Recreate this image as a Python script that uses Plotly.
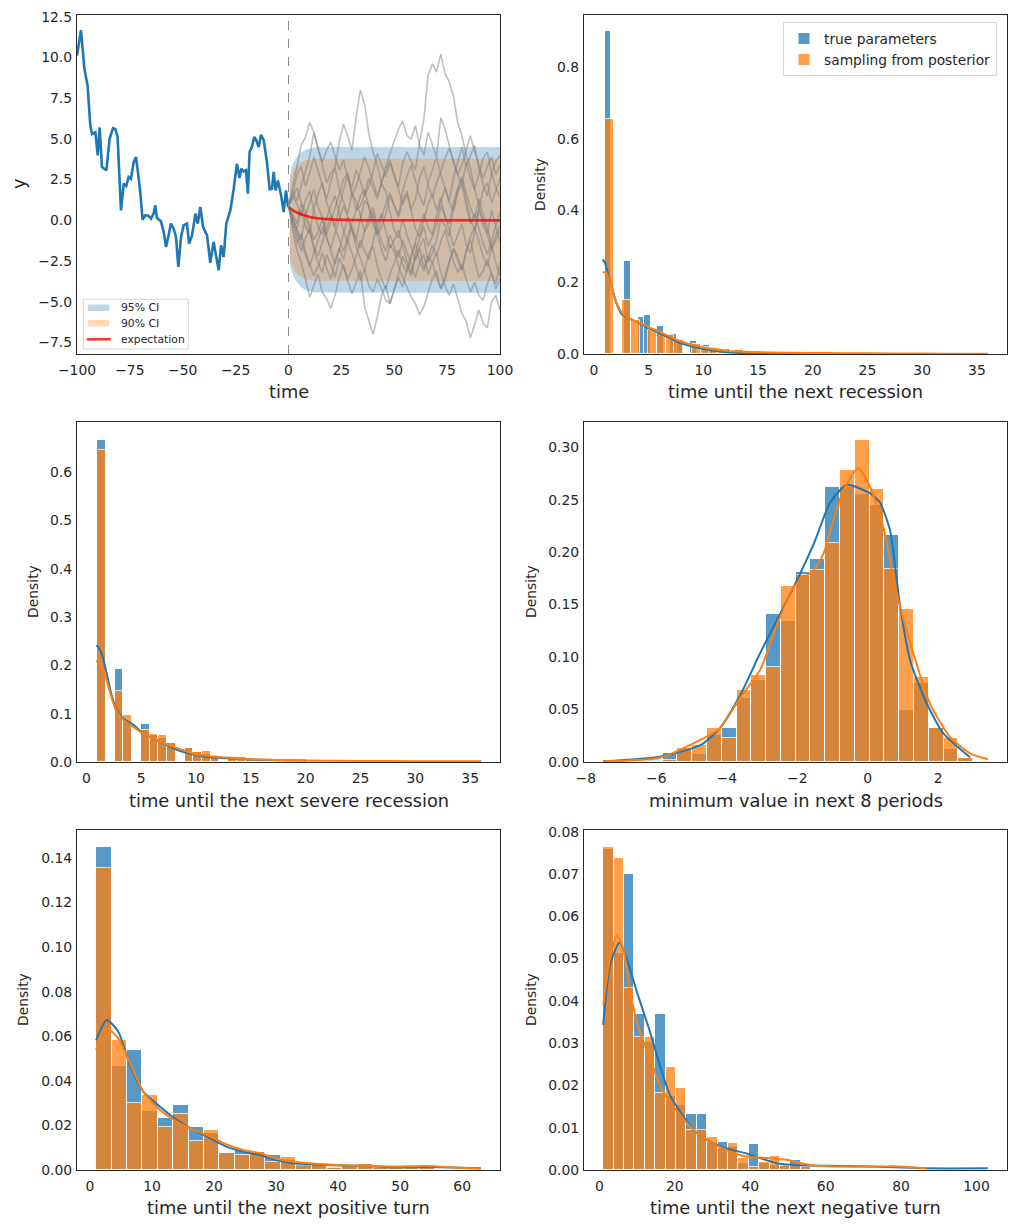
import numpy as np
import plotly.graph_objects as go

FONT = "DejaVu Sans"
INK = "#262626"
BLUE = "#1f77b4"
ORANGE = "#ff7f0e"
W, H = 1017, 1227

# ---------------- panel 1: observed series + forecast ----------------
obs_t = [-100, -98.1, -96.5, -95, -93.7, -92.9, -91.3, -90.2, -89.3, -88.2,
         -86.1, -84.6, -83, -81.9, -80.8, -79.2, -77.9, -76.7, -75.6, -74.5,
         -73.2, -72.1, -70.8, -70.1, -69, -67.7, -66.1, -65, -63.8, -63,
         -62.2, -60.3, -59, -57.9, -56.7, -55.6, -54.3, -53.2, -52.1, -50.8,
         -49.6, -48, -47, -45.6, -44, -42.9, -41.7, -40.4, -38.5, -37,
         -35.4, -34.1, -33, -31.9, -30.7, -29.4, -27.5, -25.9, -24.4, -23.2,
         -22.3, -21.2, -20.1, -19.2, -18.4, -17.3, -16.2, -15.2, -14.1, -13,
         -11.7, -10.2, -8.9, -7.8, -7, -6.1, -5, -3.5, -2.3, -1.2,
         -0.2, 0]
obs_y = [10.12, 11.66, 9.3, 8.28, 5.82, 5.3, 5.4, 3.99, 5.7, 3.27,
         3.07, 5.0, 5.65, 5.6, 5.1, 0.61, 2.25, 2.1, 2.66, 2.55,
         3.58, 3.88, 2.55, 1.74, 0.04, 0.31, 0.27, 0.1, 0.41, 0.92,
         0.14, -0.06, -0.71, -1.63, -0.92, -0.2, -0.51, -1.02, -2.86, -1.02,
         -0.31, -0.2, -1.43, -0.92, 0.41, -0.2, 0.82, -0.41, -0.92, -2.6,
         -1.33, -2.15, -3.07, -1.53, -2.25, -0.2, 0.61, 1.94, 3.48, 2.6,
         3.17, 3.0, 3.07, 1.64, 4.19, 4.5, 5.11, 4.91, 4.5, 5.25,
         4.91, 3.58, 1.9, 1.94, 2.97, 1.84, 2.45, 1.53, 0.51, 1.84,
         0.82, 0.9]

sim_t = list(range(0, 101, 2))
path_01 = [0.9, 0.1, -0.6, -1.2, 0.3, 1.1, 1.9, 0.8, 0.2, -0.9, -0.1, 0.8, 1.6, 2.5, 2.9, 1.7, 0.6,
           0.9, 1.6, 2.6, 1.9, 1.3, 2.4, 3.1, 3.7, 2.6, 2.1, 3.5, 4.2, 3.6, 3.1, 4.8, 6.2, 8.9,
           9.6, 9.1, 10.2, 9.0, 8.5, 7.6, 6.0, 5.2, 4.0, 3.2, 1.9, 1.0, -0.3, -0.8, 0.6, -0.4, -1.3]
path_02 = [0.9, 1.6, 2.8, 3.3, 2.1, 2.9, 3.9, 3.0, 2.2, 1.3, 2.4, 3.3, 4.8, 5.9, 5.2, 4.3, 6.4,
           8.0, 7.1, 5.3, 4.2, 3.4, 2.2, 1.8, 0.5, -0.6, -1.1, 0.1, -0.9, -1.6, -2.5, -1.6, -1.1, -2.6,
           -2.0, -1.2, 0.1, -0.3, -1.0, 0.7, 1.8, 2.5, 1.3, 0.1, -0.6, 0.7, 1.9, 2.3, 1.1, 1.8, 2.6]
path_03 = [0.9, 2.0, 3.3, 4.6, 5.1, 6.0, 5.4, 4.5, 3.4, 2.3, 2.9, 3.2, 1.9, 1.1, 0.4, 1.6, 1.2,
           0.3, -0.7, -0.2, 0.5, -0.9, -0.4, 0.4, 1.5, 0.9, 0.3, 1.8, 2.7, 3.4, 2.4, 1.5, 0.9, 2.3,
           3.1, 3.9, 2.8, 2.0, 1.2, 2.6, 3.5, 4.5, 3.3, 3.9, 4.6, 3.2, 2.2, 1.5, 2.9, 3.6, 4.0]
path_04 = [0.9, -0.2, -0.5, 0.6, -0.4, -0.8, 0.7, 1.6, 2.3, 1.1, 0.4, -0.4, 0.8, 1.9, 2.7, 1.5, 2.1,
           3.0, 3.9, 3.2, 2.4, 1.5, 2.2, 3.3, 4.1, 4.8, 5.6, 6.1, 5.2, 5.0, 5.8, 4.6, 4.0, 5.4,
           4.7, 3.9, 6.3, 5.6, 4.6, 3.5, 2.8, 2.2, 3.5, 2.6, 1.9, 2.9, 3.8, 4.2, 2.9, 2.0, 1.4]
path_05 = [0.9, -0.1, -1.0, -1.9, -1.1, -0.5, -1.8, -2.6, -3.2, -2.1, -2.7, -3.5, -2.3, -2.9, -3.7, -4.5, -3.8,
           -3.1, -5.3, -6.2, -7.0, -5.9, -4.6, -4.0, -5.1, -4.2, -3.3, -2.2, -2.8, -3.4, -2.0, -1.1, -0.4, -1.6,
           -1.0, -0.3, 0.9, 0.3, -0.6, -1.6, -0.9, -0.2, -1.5, -2.0, -0.7, 0.6, 0.1, -0.8, -1.8, -1.2, -0.6]
path_06 = [0.9, 1.5, 1.0, 0.3, 1.2, 1.8, 0.6, -0.4, -0.9, 0.1, 0.9, 1.5, 0.4, -0.6, -1.4, -0.3, -1.2,
           -1.7, -0.6, 0.2, 0.8, -0.4, -1.3, -1.9, -0.9, -1.6, -2.3, -1.2, -1.9, -2.7, -3.5, -2.6, -2.1, -3.3,
           -2.6, -2.0, -3.2, -4.0, -4.6, -3.9, -4.8, -5.7, -6.2, -7.2, -6.4, -5.5, -6.3, -6.6, -5.0, -4.6, -5.5]
path_07 = [0.9, -0.6, -1.8, -2.6, -3.6, -4.7, -4.0, -3.3, -4.4, -4.8, -5.4, -4.6, -3.5, -2.7, -3.6, -3.0, -2.2,
           -1.2, -1.9, -2.4, -1.3, -0.2, 0.4, -0.6, -1.7, -1.2, -0.6, -1.6, -2.5, -3.2, -2.3, -1.7, -2.9, -2.2,
           -2.6, -3.5, -4.2, -3.4, -2.6, -1.7, -2.2, -3.0, -1.8, -1.2, -2.4, -3.5, -3.1, -2.4, -3.3, -3.9, -2.6]
path_08 = [0.9, 0.4, -0.2, 1.0, 0.6, -0.3, -1.2, -0.7, 0.1, -1.0, -1.9, -2.7, -1.8, -0.8, 0.2, -0.6, -1.2,
           0.1, 1.2, 0.9, 0.0, -0.9, -1.8, -2.5, -1.5, -1.9, -2.8, -3.5, -4.1, -4.7, -5.1, -5.8, -5.3, -4.5,
           -3.6, -3.1, -4.2, -3.7, -2.6, -1.8, -2.4, -3.1, -2.0, -1.0, -0.4, -1.3, -2.2, -2.8, -1.7, -0.9, -0.3]
path_09 = [0.9, 1.4, 2.0, 1.1, 0.2, -0.7, -1.6, -2.2, -1.3, -0.5, 0.3, -0.4, -1.2, -1.9, -1.0, -0.1, 0.6,
           1.5, 1.9, 0.8, -0.3, -0.8, 0.2, 1.0, 1.7, 0.9, 0.2, 1.2, 1.8, 0.6, -0.5, -1.0, 0.1, 1.0,
           1.6, 0.6, 1.4, 0.2, -0.2, 1.1, 2.0, 2.7, 1.7, 0.8, 0.1, 1.3, 0.4, -0.4, -1.5, -2.6, -3.4]
path_10 = [0.9, 0.2, -0.6, -1.4, -2.1, -2.8, -2.0, -1.2, -0.4, -1.1, -1.7, -0.8, 0.1, 0.9, 0.2, -0.6, -1.6,
           -2.4, -3.1, -2.0, -1.6, -2.8, -3.6, -4.2, -3.3, -2.6, -1.8, -2.7, -3.2, -2.2, -1.3, -0.5, 0.4, -0.4,
           -0.9, 0.3, 1.2, 2.0, 1.1, 0.6, 1.7, 2.2, 0.9, -0.2, 0.4, -0.5, -1.4, -2.1, -1.2, -0.3, 0.5]
path_11 = [0.9, 1.8, 1.2, 2.1, 3.0, 3.9, 5.4, 4.3, 3.6, 4.3, 4.8, 4.0, 3.1, 3.7, 2.6, 2.0, 3.1,
           2.4, 1.5, 2.1, 3.0, 4.1, 3.4, 2.7, 3.5, 2.9, 1.9, 1.0, 1.6, 0.7, 1.3, 2.6, 3.3, 2.2,
           1.4, 2.3, 3.0, 3.8, 4.4, 3.7, 2.8, 3.4, 4.3, 5.2, 4.2, 3.4, 2.6, 3.3, 3.9, 2.8, 3.4]
path_12 = [0.9, -0.3, -1.4, -0.8, -1.9, -2.7, -3.4, -2.8, -2.0, -2.9, -3.6, -2.5, -1.7, -2.4, -1.3, -2.0, -2.9,
           -3.7, -3.0, -4.0, -4.4, -3.6, -4.2, -4.9, -5.1, -4.3, -3.5, -4.1, -3.0, -2.2, -1.4, -2.5, -3.1, -2.3,
           -1.5, -2.2, -1.3, -0.6, -1.5, -2.5, -3.2, -2.7, -3.6, -4.4, -3.8, -4.6, -4.9, -3.9, -3.2, -4.2, -3.6]
sim_paths = [path_01, path_02, path_03, path_04, path_05, path_06,
             path_07, path_08, path_09, path_10, path_11, path_12]

band_t = [0.6, 1, 1.5, 2, 3, 4, 5, 6, 8, 10, 12, 15, 100]
upper95 = [2.6, 3.0, 3.25, 3.45, 3.7, 3.9, 4.05, 4.17, 4.33, 4.42, 4.47, 4.5, 4.5]
lower95 = [-2.5, -2.9, -3.15, -3.35, -3.6, -3.8, -3.97, -4.1, -4.27, -4.37, -4.42, -4.45, -4.45]
upper90 = [2.2, 2.55, 2.78, 2.95, 3.2, 3.35, 3.47, 3.56, 3.67, 3.73, 3.76, 3.78, 3.78]
lower90 = [-2.1, -2.45, -2.68, -2.85, -3.1, -3.27, -3.4, -3.49, -3.61, -3.67, -3.7, -3.72, -3.72]

exp_t = [0, 2, 4, 6, 8, 10, 12, 15, 20, 25, 30, 40, 50, 100]
exp_y = [0.8, 0.62, 0.48, 0.37, 0.28, 0.21, 0.16, 0.11, 0.06, 0.035, 0.02, 0.007, 0.002, 0.0]

legend1_labels = ["95% CI", "90% CI", "expectation"]

# ---------------- panel 2: time until the next recession ----------------
rec_true_values = list(range(1, 21))
rec_true_heights = [0.90, 0, 0.259, 0.103, 0.109, 0.078, 0.056, 0.038, 0.036, 0.025,
                    0.02, 0.015, 0.011, 0.008, 0.006, 0.004, 0.003, 0.002, 0.0015, 0.001]
rec_true_bins = (1.0, 0.6, 32)          # start, width, count
rec_post_values = list(range(1, 37))
rec_post_heights = [0.656, 0, 0.151, 0.096, 0.067, 0.059, 0.053, 0.039, 0.028, 0.020,
                    0.016, 0.012, 0.010, 0.008, 0.007, 0.006, 0.005, 0.004, 0.003, 0.003,
                    0.002, 0.002, 0.0015, 0.0015, 0.001, 0.001, 0.001, 0.0008, 0.0008, 0.0006,
                    0.0006, 0.0005, 0.0005, 0.0004, 0.0004, 0.0004]
rec_post_bins = (1.0, 35 / 44, 44)
rec_kde_true_x = [0.8, 1.0, 1.3, 1.7, 2.07, 2.5, 3.0, 3.9, 5.0, 6.0, 7.0, 7.6, 8.5, 9.7, 11.0, 12.1, 13.5, 15.2, 17.5, 20.0]
rec_kde_true_y = [0.264, 0.255, 0.225, 0.18, 0.141, 0.113, 0.102, 0.09, 0.072, 0.058, 0.044, 0.034, 0.025, 0.016, 0.009, 0.0047, 0.003, 0.0019, 0.001, 0.0004]
rec_kde_post_x = [0.8, 1.16, 1.5, 1.9, 2.5, 3.0, 3.9, 5.0, 6.0, 7.6, 9.7, 12.1, 15.2, 18, 21, 25, 30, 33, 36.0]
rec_kde_post_y = [0.229, 0.226, 0.2, 0.155, 0.118, 0.103, 0.09, 0.075, 0.062, 0.039, 0.02, 0.009, 0.0047, 0.0035, 0.0025, 0.0018, 0.0012, 0.0009, 0.0006]

# ---------------- panel 3: time until the next severe recession ----------------
sev_true_values = list(range(1, 21))
sev_true_heights = [0.667, 0, 0.192, 0.085, 0.079, 0.055, 0.05, 0.04, 0.028, 0.02,
                    0.017, 0.012, 0.01, 0.008, 0.006, 0.004, 0.003, 0.002, 0.0015, 0.001]
sev_post_values = list(range(1, 37))
sev_post_heights = [0.647, 0, 0.148, 0.097, 0.066, 0.058, 0.056, 0.039, 0.030, 0.020,
                    0.023, 0.008, 0.011, 0.011, 0.009, 0.006, 0.005, 0.004, 0.003, 0.003,
                    0.0025, 0.002, 0.002, 0.0018, 0.0015, 0.0015, 0.0012, 0.001, 0.001, 0.001,
                    0.0008, 0.0008, 0.0007, 0.0006, 0.0006, 0.0005]
sev_bins = (1.0, 35 / 44, 44)
sev_kde_true_x = [0.9, 1.0, 1.4, 1.85, 2.3, 2.75, 3.37, 4.3, 5.2, 6.4, 7.6, 8.8, 10.0, 11.3, 12.8, 15.8, 18, 20]
sev_kde_true_y = [0.24, 0.24, 0.225, 0.184, 0.139, 0.108, 0.09, 0.077, 0.059, 0.046, 0.032, 0.021, 0.0145, 0.0097, 0.0077, 0.0045, 0.0035, 0.003]
sev_kde_post_x = [0.9, 1.0, 1.4, 1.85, 2.3, 2.75, 3.37, 4.3, 5.2, 6.4, 7.6, 8.8, 10.0, 11.3, 12.8, 15.8, 20, 25, 30, 36]
sev_kde_post_y = [0.209, 0.208, 0.2, 0.17, 0.134, 0.105, 0.088, 0.072, 0.059, 0.046, 0.034, 0.025, 0.016, 0.012, 0.0092, 0.005, 0.0032, 0.0022, 0.0018, 0.0014]

# ---------------- panel 4: minimum value in next 8 periods ----------------
min_range = (-7.5, 3.41)
min_nbins = 26
min_true_heights = [0, 0, 0, 0.002, 0.009, 0.011, 0.0075, 0.026, 0.032, 0.061,
                    0.078, 0.141, 0.134, 0.181, 0.193, 0.262, 0.262, 0.255, 0.245, 0.216,
                    0.05, 0.075, 0.032, 0.012, 0.004, 0]
min_post_heights = [0.002, 0.001, 0.001, 0.001, 0.002, 0.013, 0.0165, 0.032, 0.023, 0.069,
                    0.083, 0.091, 0.168, 0.178, 0.183, 0.209, 0.278, 0.307, 0.26, 0.184,
                    0.146, 0.081, 0.032, 0.023, 0.004, 0.001]
min_kde_true_x = [-7.5, -5.9, -4.75, -4.2, -3.6, -3.05, -2.58, -2.1, -1.53, -1.07, -0.6, 0.07, 0.35, 0.63, 0.92, 1.2, 1.67, 2.15, 2.9]
min_kde_true_y = [0.0005, 0.005, 0.016, 0.032, 0.065, 0.104, 0.135, 0.167, 0.208, 0.247, 0.264, 0.256, 0.247, 0.221, 0.148, 0.097, 0.056, 0.027, 0.0045]
min_kde_post_x = [-7.5, -5.9, -4.75, -4.2, -3.6, -3.05, -2.58, -2.1, -1.53, -1.25, -0.97, -0.69, -0.27, 0.07, 0.44, 0.82, 1.29, 1.76, 2.33, 2.9, 3.41]
min_kde_post_y = [0.0005, 0.004, 0.021, 0.032, 0.062, 0.088, 0.13, 0.167, 0.183, 0.199, 0.231, 0.259, 0.28, 0.262, 0.224, 0.161, 0.104, 0.056, 0.024, 0.0083, 0.0026]

# ---------------- panel 5: time until the next positive turn ----------------
pos_range = (1, 63)
pos_nbins = 25
pos_true_heights = [0.1447, 0.0465, 0.0537, 0.0265, 0.0235, 0.0291, 0.0194, 0.0165, 0.0075, 0.009,
                    0.008, 0.0067, 0.0045, 0.002, 0.0027, 0.0015, 0.002, 0.0025, 0.001, 0.001,
                    0.0008, 0.0008, 0.0006, 0.0005, 0.0005]
pos_post_heights = [0.1353, 0.0583, 0.0299, 0.0336, 0.0194, 0.0253, 0.0128, 0.018, 0.0075, 0.0067,
                    0.0082, 0.0037, 0.006, 0.0022, 0.0027, 0.001, 0.0022, 0.0025, 0.001, 0.001,
                    0.0012, 0.0008, 0.0006, 0.0005, 0.0004]
pos_kde_true_x = [0.97, 2.7, 4.56, 6.45, 8.6, 11.3, 14, 16.7, 19.4, 22, 24.7, 27.4, 30, 32.8, 38.2, 43.5, 48.9, 54.3, 63]
pos_kde_true_y = [0.0583, 0.0673, 0.062, 0.047, 0.035, 0.0284, 0.0224, 0.018, 0.0142, 0.0105, 0.0082, 0.0067, 0.0045, 0.003, 0.0022, 0.0019, 0.0012, 0.0013, 0.0008]
pos_kde_post_x = [0.97, 2.7, 4.56, 6.45, 8.6, 11.3, 14, 16.7, 19.4, 22, 24.7, 27.4, 30, 32.8, 38.2, 43.5, 48.9, 54.3, 59.6, 63]
pos_kde_post_y = [0.0538, 0.0635, 0.059, 0.0478, 0.035, 0.0269, 0.0217, 0.018, 0.015, 0.0115, 0.009, 0.0075, 0.0052, 0.0037, 0.0025, 0.0019, 0.0016, 0.0018, 0.001, 0.0006]

# ---------------- panel 6: time until the next negative turn ----------------
neg_range = (1, 103)
neg_nbins = 37
neg_true_heights = [0.0759, 0.0514, 0.07, 0.0369, 0.0303, 0.0369, 0.0175, 0.0154, 0.0132, 0.0132,
                    0.0063, 0.0066, 0.0055, 0.0017, 0.0062, 0.0016, 0.0012, 0.0012, 0.0024, 0.0006,
                    0.0003, 0.0002, 0.0002, 0.0002, 0.0001, 0.0001, 0.0001, 0.0001, 0.0002, 0.0001,
                    0.0001, 0.0001, 0.0001, 0.0001, 0.0001, 0.0001, 0.0002]
neg_post_heights = [0.0764, 0.0738, 0.0431, 0.0314, 0.0314, 0.0183, 0.0244, 0.0193, 0.0094, 0.0094,
                    0.0079, 0.0053, 0.0063, 0.0028, 0.0006, 0.0018, 0.0032, 0.001, 0.001, 0.0007,
                    0.0003, 0.0002, 0.0002, 0.0003, 0.0002, 0.0001, 0.0001, 0.0001, 0.0001, 0.0001,
                    0, 0, 0, 0, 0, 0, 0]
neg_kde_true_x = [1.0, 2.8, 5.3, 7.2, 9.9, 13.4, 16, 18.7, 21.4, 24.9, 29.3, 33.7, 39, 42.6, 47, 51.4, 60.3, 69.2, 86.8, 103]
neg_kde_true_y = [0.0343, 0.0485, 0.0538, 0.05, 0.0422, 0.0327, 0.0248, 0.0177, 0.0138, 0.0095, 0.0067, 0.0051, 0.0039, 0.0028, 0.0016, 0.0012, 0.001, 0.0009, 0.0004, 0.0004]
neg_kde_post_x = [1.0, 2.8, 4.6, 6.3, 8.1, 10.7, 13.4, 16, 18.7, 21.4, 24.9, 29.3, 33.7, 39, 45.2, 49.6, 55.8, 64.7, 73.5, 78, 86.8]
neg_kde_post_y = [0.039, 0.05, 0.0554, 0.0524, 0.0422, 0.0327, 0.0264, 0.0201, 0.0162, 0.013, 0.0095, 0.0067, 0.0047, 0.0032, 0.0028, 0.0024, 0.0012, 0.0008, 0.0008, 0.0009, 0.0004]

# ---------------- helpers ----------------
def bars_from_values(values, heights, start, width, nbins):
    v = np.asarray(values, float)
    idx = np.clip(np.floor((v - start) / width + 1e-9).astype(int), 0, nbins - 1)
    h = np.zeros(nbins)
    for i, val in zip(idx, heights):
        h[i] += val
    centers = start + (np.arange(nbins) + 0.5) * width
    keep = h > 0
    return centers[keep], h[keep]


def bars_from_bins(heights, lo, hi, nbins):
    width = (hi - lo) / nbins
    centers = lo + (np.arange(nbins) + 0.5) * width
    h = np.asarray(heights, float)
    keep = h > 0
    return centers[keep], h[keep], width


def px_x(px):
    return px / W


def px_y(py):
    return 1 - py / H


fig = go.Figure()


def add_bars(x, y, width, color, ax, name, show):
    fig.add_trace(go.Bar(x=x, y=y, width=width, marker=dict(color=color, line=dict(color="white", width=1)),
                         opacity=0.75, xaxis="x" + ax, yaxis="y" + ax, name=name,
                         showlegend=show, legendgroup=name))


def add_kde(x, y, color, ax):
    fig.add_trace(go.Scatter(x=x, y=y, mode="lines", line=dict(color=color, width=2, shape="spline", smoothing=0.6),
                             xaxis="x" + ax, yaxis="y" + ax, showlegend=False, hoverinfo="skip"))


# ---- panel 1 traces ----
BAND95 = "rgba(31,119,180,0.3)"
BAND90 = "rgba(255,127,14,0.3)"
EXPC = "rgba(255,0,0,0.8)"
fig.add_trace(go.Scatter(x=obs_t, y=obs_y, mode="lines", line=dict(color=BLUE, width=2.6),
                         xaxis="x", yaxis="y", showlegend=False))
fig.add_trace(go.Scatter(x=band_t + band_t[::-1], y=upper95 + lower95[::-1], fill="toself",
                         fillcolor=BAND95, line=dict(width=0), mode="lines",
                         name="95% CI", xaxis="x", yaxis="y", showlegend=False))
fig.add_trace(go.Scatter(x=band_t + band_t[::-1], y=upper90 + lower90[::-1], fill="toself",
                         fillcolor=BAND90, line=dict(width=0), mode="lines",
                         name="90% CI", xaxis="x", yaxis="y", showlegend=False))
for p in sim_paths:
    fig.add_trace(go.Scatter(x=sim_t, y=p, mode="lines", line=dict(color="rgba(128,128,128,0.5)", width=1.6),
                             xaxis="x", yaxis="y", showlegend=False))
fig.add_trace(go.Scatter(x=exp_t, y=exp_y, mode="lines", line=dict(color=EXPC, width=2.6, shape="spline"),
                         name="expectation", xaxis="x", yaxis="y", showlegend=False))
fig.add_shape(type="line", x0=0, x1=0, y0=0, y1=1, xref="x", yref="y domain",
              line=dict(color="#888888", width=1, dash="dash"))

# manual small legend for panel 1 (box, swatches, labels)
fig.add_shape(type="rect", xref="paper", yref="paper", x0=px_x(83.3), x1=px_x(188.3), y0=px_y(349), y1=px_y(299.3),
              line=dict(color="#d6d6d6", width=1), fillcolor="rgba(255,255,255,0.8)", layer="above")
fig.add_shape(type="rect", xref="paper", yref="paper", x0=px_x(87.7), x1=px_x(109.3), y0=px_y(311), y1=px_y(304.5),
              line=dict(width=0), fillcolor=BAND95, layer="above")
fig.add_shape(type="rect", xref="paper", yref="paper", x0=px_x(87.7), x1=px_x(109.3), y0=px_y(326.5), y1=px_y(320),
              line=dict(width=0), fillcolor=BAND90, layer="above")
fig.add_shape(type="line", xref="paper", yref="paper", x0=px_x(86.7), x1=px_x(110.7), y0=px_y(339.3), y1=px_y(339.3),
              line=dict(color=EXPC, width=2.6), layer="above")
for lab, ly in zip(legend1_labels, [307.7, 323.3, 339.3]):
    fig.add_annotation(text=lab, x=px_x(118.5), y=px_y(ly), xref="paper", yref="paper", showarrow=False,
                       xanchor="left", yanchor="middle", font=dict(family=FONT, size=10.8, color=INK))

# ---- panel 2 ----
x, y = bars_from_values(rec_true_values, rec_true_heights, *rec_true_bins)
add_bars(x, y, rec_true_bins[1], BLUE, "2", "true parameters", True)
x, y = bars_from_values(rec_post_values, rec_post_heights, *rec_post_bins)
add_bars(x, y, rec_post_bins[1], ORANGE, "2", "sampling from posterior", True)
add_kde(rec_kde_true_x, rec_kde_true_y, BLUE, "2")
add_kde(rec_kde_post_x, rec_kde_post_y, ORANGE, "2")

# ---- panel 3 ----
x, y = bars_from_values(sev_true_values, sev_true_heights, *sev_bins)
add_bars(x, y, sev_bins[1], BLUE, "3", "true parameters", False)
x, y = bars_from_values(sev_post_values, sev_post_heights, *sev_bins)
add_bars(x, y, sev_bins[1], ORANGE, "3", "sampling from posterior", False)
add_kde(sev_kde_true_x, sev_kde_true_y, BLUE, "3")
add_kde(sev_kde_post_x, sev_kde_post_y, ORANGE, "3")

# ---- panel 4 ----
x, y, w = bars_from_bins(min_true_heights, *min_range, min_nbins)
add_bars(x, y, w, BLUE, "4", "true parameters", False)
x, y, w = bars_from_bins(min_post_heights, *min_range, min_nbins)
add_bars(x, y, w, ORANGE, "4", "sampling from posterior", False)
add_kde(min_kde_true_x, min_kde_true_y, BLUE, "4")
add_kde(min_kde_post_x, min_kde_post_y, ORANGE, "4")

# ---- panel 5 ----
x, y, w = bars_from_bins(pos_true_heights, *pos_range, pos_nbins)
add_bars(x, y, w, BLUE, "5", "true parameters", False)
x, y, w = bars_from_bins(pos_post_heights, *pos_range, pos_nbins)
add_bars(x, y, w, ORANGE, "5", "sampling from posterior", False)
add_kde(pos_kde_true_x, pos_kde_true_y, BLUE, "5")
add_kde(pos_kde_post_x, pos_kde_post_y, ORANGE, "5")

# ---- panel 6 ----
x, y, w = bars_from_bins(neg_true_heights, *neg_range, neg_nbins)
add_bars(x, y, w, BLUE, "6", "true parameters", False)
x, y, w = bars_from_bins(neg_post_heights, *neg_range, neg_nbins)
add_bars(x, y, w, ORANGE, "6", "sampling from posterior", False)
add_kde(neg_kde_true_x, neg_kde_true_y, BLUE, "6")
add_kde(neg_kde_post_x, neg_kde_post_y, ORANGE, "6")

# ---------------- layout ----------------
cols = [(77, 500), (584, 1007)]
rows = [(15, 354), (422, 762), (830, 1170)]


def xdom(c):
    return [cols[c][0] / W, cols[c][1] / W]


def ydom(r):
    return [1 - rows[r][1] / H, 1 - rows[r][0] / H]


TICKFONT = dict(family=FONT, size=13.9, color=INK)


def axis(dom, rng, anchor, standoff, **kw):
    d = dict(domain=dom, range=rng, anchor=anchor, showline=True, mirror=True, linecolor=INK,
             linewidth=1.25, ticks="", showgrid=False, zeroline=False, tickfont=TICKFONT,
             automargin=False, ticklabelstandoff=standoff)
    d.update(kw)
    return d


XS, YS = 3, 1
layout = dict(
    width=W, height=H, margin=dict(l=0, r=0, t=0, b=0),
    paper_bgcolor="white", plot_bgcolor="white", barmode="overlay", bargap=0,
    font=dict(family=FONT, color=INK),
    xaxis=axis(xdom(0), [-100, 100], "y", XS, tickvals=[-100, -75, -50, -25, 0, 25, 50, 75, 100]),
    yaxis=axis(ydom(0), [-8.2, 12.6], "x", YS, tickvals=[-7.5, -5, -2.5, 0, 2.5, 5, 7.5, 10, 12.5], tickformat=".1f"),
    xaxis2=axis(xdom(1), [-0.9, 37.75], "y2", XS, tickvals=[0, 5, 10, 15, 20, 25, 30, 35]),
    yaxis2=axis(ydom(0), [0, 0.9456], "x2", YS, tickvals=[0, 0.2, 0.4, 0.6, 0.8], tickformat=".1f"),
    xaxis3=axis(xdom(0), [-0.85, 37.72], "y3", XS, tickvals=[0, 5, 10, 15, 20, 25, 30, 35]),
    yaxis3=axis(ydom(1), [0, 0.704], "x3", YS, tickvals=[0, 0.1, 0.2, 0.3, 0.4, 0.5, 0.6], tickformat=".1f"),
    xaxis4=axis(xdom(1), [-8.05, 3.95], "y4", XS, tickvals=[-8, -6, -4, -2, 0, 2]),
    yaxis4=axis(ydom(1), [0, 0.324], "x4", YS, tickvals=[0, 0.05, 0.1, 0.15, 0.2, 0.25, 0.3], tickformat=".2f"),
    xaxis5=axis(xdom(0), [-2.1, 66.1], "y5", XS, tickvals=[0, 10, 20, 30, 40, 50, 60]),
    yaxis5=axis(ydom(2), [0, 0.1525], "x5", YS, tickvals=[0, 0.02, 0.04, 0.06, 0.08, 0.1, 0.12, 0.14], tickformat=".2f"),
    xaxis6=axis(xdom(1), [-4.1, 108.1], "y6", XS, tickvals=[0, 20, 40, 60, 80, 100]),
    yaxis6=axis(ydom(2), [0, 0.0804], "x6", YS, tickvals=[0, 0.01, 0.02, 0.03, 0.04, 0.05, 0.06, 0.07, 0.08], tickformat=".2f"),
    legend=dict(x=783 / W, y=1 - 22 / H, xanchor="left", yanchor="top", bgcolor="rgba(255,255,255,0.85)",
                bordercolor="#d6d6d6", borderwidth=1, font=dict(family=FONT, size=13.8, color=INK),
                itemwidth=30, tracegroupgap=0),
)
fig.update_layout(**layout)

# axis titles as annotations (pixel positions)
TS, DS = 17.8, 13.9
titles = [
    ("time", 288.5, 392, 0, TS),
    ("y", 18, 184, -90, TS),
    ("time until the next recession", 795.5, 392, 0, TS),
    ("Density", 540, 185, -90, DS),
    ("time until the next severe recession", 288.5, 800, 0, TS),
    ("Density", 33, 592, -90, DS),
    ("minimum value in next 8 periods", 795.5, 800, 0, TS),
    ("Density", 531, 592, -90, DS),
    ("time until the next positive turn", 288.5, 1207, 0, TS),
    ("Density", 23, 1000, -90, DS),
    ("time until the next negative turn", 795.5, 1207, 0, TS),
    ("Density", 531, 1000, -90, DS),
]
for text, px, py, ang, size in titles:
    fig.add_annotation(text=text, x=px_x(px), y=px_y(py), xref="paper", yref="paper", showarrow=False,
                       textangle=ang, xanchor="center", yanchor="middle",
                       font=dict(family=FONT, size=size, color=INK))

fig.write_html("out.html")
